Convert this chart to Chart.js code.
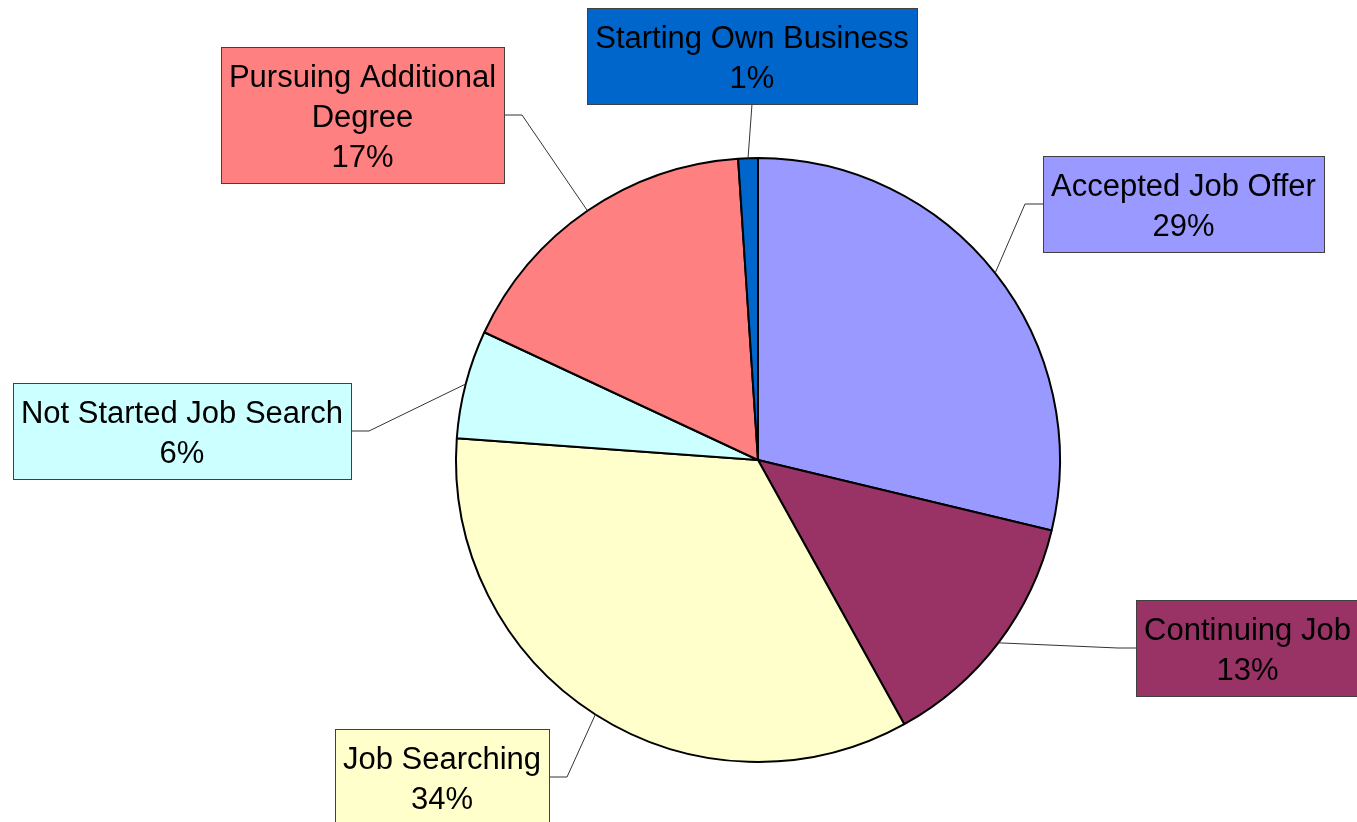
<!DOCTYPE html>
<html>
<head>
<meta charset="utf-8">
<script src="https://cdn.jsdelivr.net/npm/chart.js@4/dist/chart.umd.min.js"></script>
<style>
  html, body { margin: 0; padding: 0; background: #fff; }
  #wrap { width: 1357px; height: 822px; }
</style>
</head>
<body>
<div id="wrap"><canvas id="pieChart" width="1357" height="822"></canvas></div>
<script>
  // Chart data (percent shares)
  const categories = ['Accepted Job Offer', 'Continuing Job', 'Job Searching', 'Not Started Job Search', 'Pursuing Additional Degree', 'Starting Own Business'];
  const values = [28.75, 13.2, 34.2, 5.8, 17.0, 1.05];
  const sliceColors = ['#9999FF', '#993366', '#FFFFCC', '#CCFFFF', '#FF8080', '#0066CC'];

  // where the callout boxes sit (top-left corner), same order as categories
  const calloutBoxes = [
    { x: 1043, y: 156 },
    { x: 1136, y: 600 },
    { x: 335, y: 729 },
    { x: 13, y: 383 },
    { x: 221, y: 47 },
    { x: 587, y: 8 }
  ];

  const FONT = '31px "Liberation Sans", Arial, sans-serif';
  const PAD = 8, LINE_H = 40.3, MAX_TEXT_W = 340;

  function wrapText(ctx, text) {
    const words = text.split(' ');
    const lines = [];
    let cur = '';
    words.forEach(w => {
      const test = cur ? cur + ' ' + w : w;
      if (cur && ctx.measureText(test).width > MAX_TEXT_W) {
        lines.push(cur);
        cur = w;
      } else {
        cur = test;
      }
    });
    if (cur) lines.push(cur);
    return lines;
  }

  const calloutPlugin = {
    id: 'callouts',
    afterDraw(chart) {
      const ctx = chart.ctx;
      const meta = chart.getDatasetMeta(0);
      const total = values.reduce((a, b) => a + b, 0);
      ctx.save();
      ctx.font = FONT;

      meta.data.forEach((arc, i) => {
        const { x, y, startAngle, endAngle, outerRadius } = arc.getProps(['x', 'y', 'startAngle', 'endAngle', 'outerRadius'], true);
        const mid = (startAngle + endAngle) / 2;
        const px = x + Math.cos(mid) * outerRadius;
        const py = y + Math.sin(mid) * outerRadius;

        const pct = Math.round(values[i] / total * 100) + '%';
        const lines = wrapText(ctx, categories[i]).concat([pct]);
        const textW = Math.max(...lines.map(l => ctx.measureText(l).width));
        const bw = Math.round(textW + PAD * 2);
        const bh = Math.round(PAD * 2 + 40 * lines.length);
        const bx = calloutBoxes[i].x, by = calloutBoxes[i].y;

        // leader line
        ctx.strokeStyle = '#333333';
        ctx.lineWidth = 1;
        ctx.beginPath();
        if (bx > px) {
          const ay = by + bh / 2;
          ctx.moveTo(px, py);
          ctx.lineTo(bx - 18, ay);
          ctx.lineTo(bx, ay);
        } else if (bx + bw < px) {
          const ay = by + bh / 2;
          ctx.moveTo(px, py);
          ctx.lineTo(bx + bw + 18, ay);
          ctx.lineTo(bx + bw, ay);
        } else {
          ctx.moveTo(px, py);
          ctx.lineTo(bx + bw / 2, by + bh);
        }
        ctx.stroke();

        // box
        ctx.fillStyle = sliceColors[i];
        ctx.fillRect(bx, by, bw, bh);
        ctx.strokeStyle = '#404040';
        ctx.strokeRect(bx + 0.5, by + 0.5, bw, bh);

        // text
        ctx.fillStyle = '#000';
        ctx.textAlign = 'center';
        ctx.textBaseline = 'alphabetic';
        lines.forEach((l, k) => {
          ctx.fillText(l, bx + bw / 2, by + 39.5 + LINE_H * k);
        });
      });
      ctx.restore();
    }
  };

  const ctx = document.getElementById('pieChart').getContext('2d');
  new Chart(ctx, {
    type: 'pie',
    data: {
      labels: categories,
      datasets: [{
        data: values,
        backgroundColor: sliceColors,
        borderColor: '#000',
        borderWidth: 2
      }]
    },
    options: {
      responsive: false,
      animation: false,
      radius: 302,
      layout: { padding: { left: 456, top: 158, right: 297, bottom: 60 } },
      plugins: {
        legend: { display: false },
        tooltip: { enabled: false }
      }
    },
    plugins: [calloutPlugin]
  });
</script>
</body>
</html>
